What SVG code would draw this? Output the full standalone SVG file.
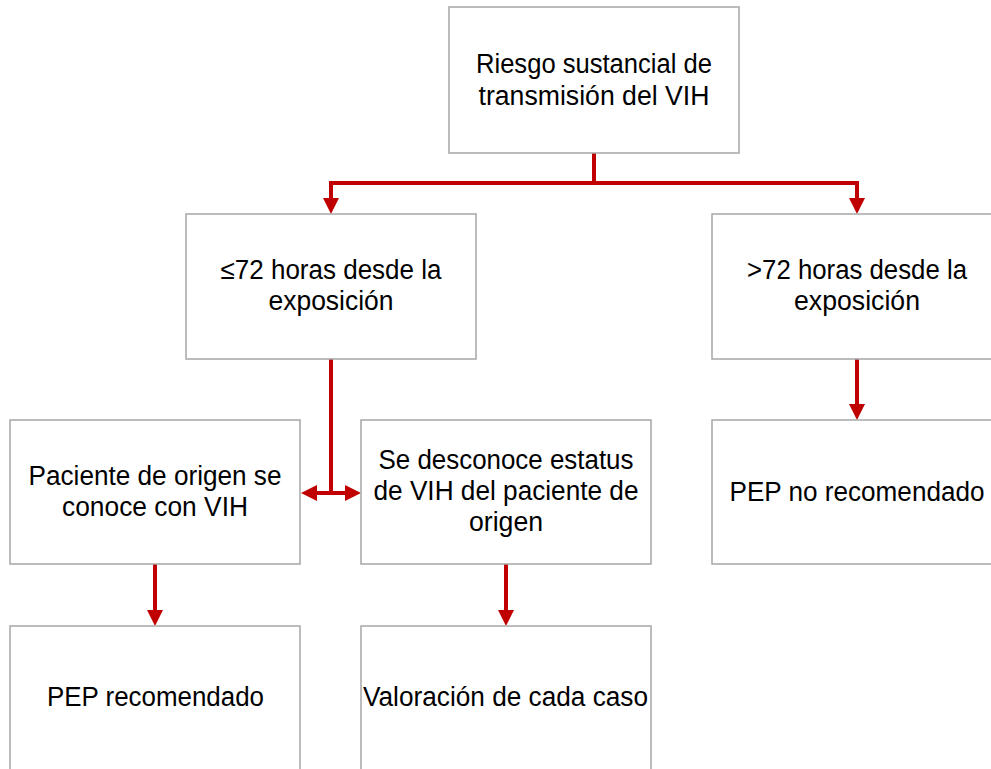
<svg xmlns="http://www.w3.org/2000/svg" width="991" height="769" viewBox="0 0 991 769">
  <style>
    .box { fill: #ffffff; stroke: #a6a6a6; stroke-width: 1.5; }
    .t { font-family: "Liberation Sans", Arial, sans-serif; font-size: 27px; fill: #000000; text-anchor: middle; }
    .c { fill: none; stroke: #C00000; stroke-width: 4; }
  </style>
  <defs>
    <marker id="ah" viewBox="0 0 16 16" refX="4" refY="8" markerWidth="16" markerHeight="16" markerUnits="userSpaceOnUse" orient="auto-start-reverse">
      <path d="M0,0 L16,8 L0,16 z" fill="#C00000"/>
    </marker>
  </defs>
  <rect width="991" height="769" fill="#ffffff"/>

  <g id="connectors">
    <path class="c" d="M594,153 V183"/>
    <path class="c" d="M331,202 V183 H857 V202" marker-start="url(#ah)" marker-end="url(#ah)"/>
    <path class="c" d="M331,359 V493"/>
    <path class="c" d="M313,493 H349" marker-start="url(#ah)" marker-end="url(#ah)"/>
    <path class="c" d="M857,359 V408" marker-end="url(#ah)"/>
    <path class="c" d="M155,564 V614" marker-end="url(#ah)"/>
    <path class="c" d="M506,564 V614" marker-end="url(#ah)"/>
  </g>

  <g id="n_riesgo">
    <rect class="box" x="449" y="7" width="290" height="146"/>
    <text class="t" x="594" y="73" textLength="236" lengthAdjust="spacingAndGlyphs">Riesgo sustancial de</text>
    <text class="t" x="594" y="105" textLength="231" lengthAdjust="spacingAndGlyphs">transmisión del VIH</text>
  </g>

  <g id="n_menor72">
    <rect class="box" x="186" y="214" width="290" height="145"/>
    <text class="t" x="331" y="279" textLength="221" lengthAdjust="spacingAndGlyphs">≤72 horas desde la</text>
    <text class="t" x="331" y="310" textLength="125" lengthAdjust="spacingAndGlyphs">exposición</text>
  </g>

  <g id="n_mayor72">
    <rect class="box" x="712" y="214" width="300" height="145"/>
    <text class="t" x="857" y="279" textLength="220" lengthAdjust="spacingAndGlyphs">&gt;72 horas desde la</text>
    <text class="t" x="857" y="310" textLength="126" lengthAdjust="spacingAndGlyphs">exposición</text>
  </g>

  <g id="n_pep_no">
    <rect class="box" x="712" y="420" width="300" height="144"/>
    <text class="t" x="857" y="501" textLength="255" lengthAdjust="spacingAndGlyphs">PEP no recomendado</text>
  </g>

  <g id="n_paciente">
    <rect class="box" x="10" y="420" width="290" height="144"/>
    <text class="t" x="155" y="485" textLength="253" lengthAdjust="spacingAndGlyphs">Paciente de origen se</text>
    <text class="t" x="155" y="516" textLength="186" lengthAdjust="spacingAndGlyphs">conoce con VIH</text>
  </g>

  <g id="n_desconoce">
    <rect class="box" x="361" y="420" width="290" height="144"/>
    <text class="t" x="506" y="469" textLength="255" lengthAdjust="spacingAndGlyphs">Se desconoce estatus</text>
    <text class="t" x="506" y="500" textLength="265" lengthAdjust="spacingAndGlyphs">de VIH del paciente de</text>
    <text class="t" x="506" y="531" textLength="74" lengthAdjust="spacingAndGlyphs">origen</text>
  </g>

  <g id="n_pep_rec">
    <rect class="box" x="10" y="626" width="290" height="160"/>
    <text class="t" x="155.5" y="706" textLength="217" lengthAdjust="spacingAndGlyphs">PEP recomendado</text>
  </g>

  <g id="n_valoracion">
    <rect class="box" x="361" y="626" width="290" height="160"/>
    <text class="t" x="505.5" y="706" textLength="285" lengthAdjust="spacingAndGlyphs">Valoración de cada caso</text>
  </g>
</svg>
